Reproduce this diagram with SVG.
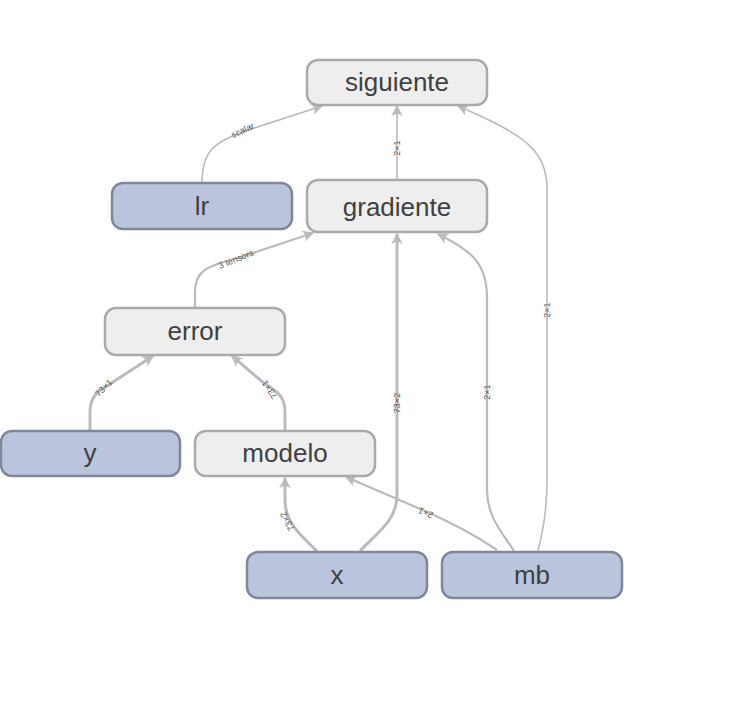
<svg xmlns="http://www.w3.org/2000/svg" width="742" height="718" viewBox="0 0 742 718">
<defs>
<marker id="arr" viewBox="0 0 10 10" refX="9" refY="5" markerWidth="12" markerHeight="12" markerUnits="userSpaceOnUse" orient="auto">
<path d="M0,0 L10,5 L0,10 C3,7 3,3 0,0 Z" fill="#bbb"/>
</marker>
<style>
.e{fill:none;stroke:#bbb;marker-end:url(#arr)}
.t3{stroke-width:3}
.t2{stroke-width:2.2}
.t1{stroke-width:1.6}
.op rect{fill:#eee;stroke:#aaa;stroke-width:2.5}
.in rect{fill:#bac5dd;stroke:#7f8799;stroke-width:2.5}
.n text{font-family:"Liberation Sans",Arial,sans-serif;font-size:26px;fill:#404040;text-anchor:middle}
.l{font-family:"Liberation Sans",Arial,sans-serif;font-size:9px;fill:#5a5a5a;text-anchor:middle}
</style>
</defs>
<rect width="742" height="718" fill="#fff"/>
<g id="edges">
<path class="e t1" d="M202,183 C202,150 215,142 245,131 L322,106"/>
<path class="e t1" d="M397,180 L397,106"/>
<path class="e t1" d="M538,551 C543,530 547,510 547,480 L547,190 C547,150 525,135 458,106"/>
<path class="e t2" d="M195,307 L195,292 C195,272 205,266 238,258 L313,233"/>
<path class="e t3" d="M360,551 C378,532 397,520 397,495 L397,234"/>
<path class="e t2" d="M514,551 C500,530 487,515 487,490 L487,298 C487,262 470,250 438,234"/>
<path class="e t3" d="M90,430 L90,412 C90,398 96,392 110,384 L153,356"/>
<path class="e t3" d="M285,430 L285,412 C285,398 279,392 265,384 L232,356"/>
<path class="e t3" d="M317,551 C300,535 285,522 285,500 L285,478"/>
<path class="e t2" d="M497,550 C475,535 450,522 425,511 L346,477"/>
<text class="l" transform="translate(244,133) rotate(-25)">scalar</text>
<text class="l" transform="translate(400,148) rotate(-90)">2×1</text>
<text class="l" transform="translate(550,310) rotate(-90)">2×1</text>
<text class="l" transform="translate(237,262) rotate(-22)">3 tensors</text>
<text class="l" transform="translate(400,403) rotate(-90)">73×2</text>
<text class="l" transform="translate(490,392) rotate(-90)">2×1</text>
<text class="l" transform="translate(106,390) rotate(-45)">73×1</text>
<text class="l" transform="translate(272,388) rotate(-125)">73×1</text>
<text class="l" transform="translate(290,520) rotate(-118)">73×2</text>
<text class="l" transform="translate(427,510) rotate(-156)">2×1</text>
</g>
<g id="node-siguiente" class="n op"><rect x="307" y="60" width="180" height="45" rx="11"/><text x="397" y="91">siguiente</text></g>
<g id="node-gradiente" class="n op"><rect x="307" y="180" width="180" height="52" rx="11"/><text x="397" y="216">gradiente</text></g>
<g id="node-lr" class="n in"><rect x="112" y="183" width="180" height="46" rx="11"/><text x="202" y="215">lr</text></g>
<g id="node-error" class="n op"><rect x="105" y="308" width="180" height="47" rx="11"/><text x="195" y="340">error</text></g>
<g id="node-y" class="n in"><rect x="1" y="431" width="179" height="45" rx="11"/><text x="90" y="462">y</text></g>
<g id="node-modelo" class="n op"><rect x="195" y="431" width="180" height="45" rx="11"/><text x="285" y="462">modelo</text></g>
<g id="node-x" class="n in"><rect x="247" y="552" width="180" height="46" rx="11"/><text x="337" y="584">x</text></g>
<g id="node-mb" class="n in"><rect x="442" y="552" width="180" height="46" rx="11"/><text x="532" y="584">mb</text></g>
</svg>
